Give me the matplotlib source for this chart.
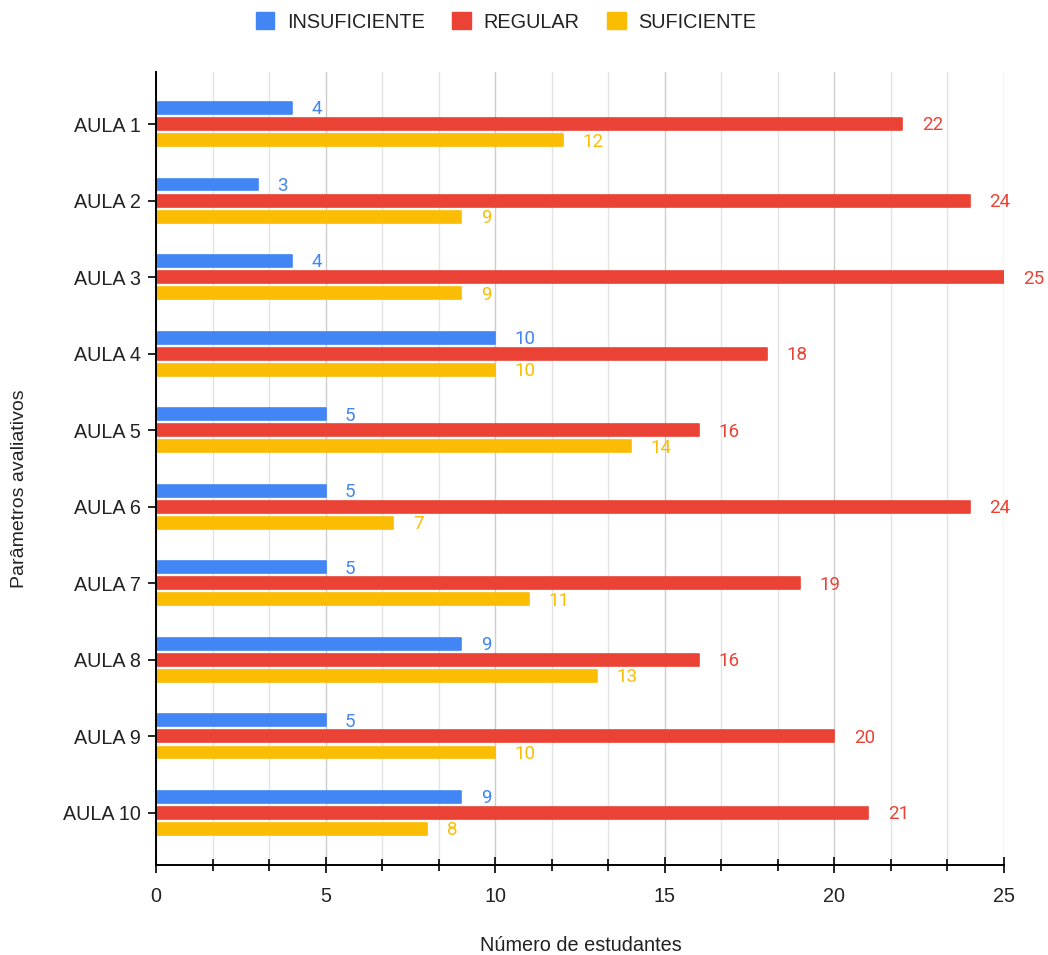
import matplotlib
matplotlib.use("Agg")
import matplotlib.pyplot as plt
import numpy as np
from matplotlib.patches import Patch
from matplotlib.ticker import MultipleLocator

plt.rcParams['font.family'] = ['Liberation Sans', 'DejaVu Sans']

categories = ["AULA 1", "AULA 2", "AULA 3", "AULA 4", "AULA 5",
              "AULA 6", "AULA 7", "AULA 8", "AULA 9", "AULA 10"]
insuficiente = [4, 3, 4, 10, 5, 5, 5, 9, 5, 9]
regular = [22, 24, 25, 18, 16, 24, 19, 16, 20, 21]
suficiente = [12, 9, 9, 10, 14, 7, 11, 13, 10, 8]

series = [("INSUFICIENTE", insuficiente, "#4285F4"),
          ("REGULAR", regular, "#EA4335"),
          ("SUFICIENTE", suficiente, "#FBBC04")]

text_col = "#222222"

fig = plt.figure(figsize=(10.48, 9.55), dpi=100)
ax = fig.add_axes([156 / 1048, 1 - 865 / 955, (1004 - 156) / 1048, (865 - 72) / 955])

y = np.arange(len(categories))
step = 0.21
bar_h = 0.155
for i, (name, vals, col) in enumerate(series):
    offs = (i - 1) * step
    ax.barh(y + offs, vals, height=bar_h, color=col, edgecolor=col,
            linewidth=1.2, joinstyle='round', zorder=3)
    for yi, v in zip(y, vals):
        ax.annotate(str(v), xy=(v, yi + offs), xytext=(14, -1),
                    textcoords='offset points', va='center', ha='left',
                    color=col, fontsize=13.5, family=['Roboto', 'DejaVu Sans'],
                    zorder=4)

ax.set_xlim(0, 25)
ax.set_ylim(9.68, -0.68)
ax.set_yticks(y)
ax.set_yticklabels(categories, fontsize=14.2, color=text_col)
ax.xaxis.set_major_locator(MultipleLocator(5))
ax.xaxis.set_minor_locator(MultipleLocator(5 / 3))
ax.tick_params(axis='x', which='major', direction='inout', length=12, width=1.2,
               labelsize=14.2, labelcolor=text_col, pad=10)
ax.tick_params(axis='x', which='minor', direction='inout', length=8, width=1.2)
ax.tick_params(axis='y', direction='inout', length=12, width=1.2, pad=5)

ax.grid(axis='x', which='major', color="#cccccc", linewidth=1, zorder=0)
ax.grid(axis='x', which='minor', color="#e3e3e3", linewidth=1, zorder=0)
for s in ['top', 'right']:
    ax.spines[s].set_visible(False)
for s in ['left', 'bottom']:
    ax.spines[s].set_linewidth(1.4)
    ax.spines[s].set_color("black")
    ax.spines[s].set_zorder(5)

fig.text(581 / 1048, 1 - 945 / 955, "Número de estudantes",
         ha='center', va='center', fontsize=14.3, color=text_col)
fig.text(20 / 1048, 1 - 489 / 955, "Parâmetros avaliativos", rotation=90,
         ha='center', va='center', fontsize=14, color=text_col)

handles = [Patch(facecolor=c, edgecolor=c, label=n) for n, _, c in series]
fig.legend(handles=handles, loc='center', bbox_to_anchor=(506 / 1048, 1 - 22 / 955),
           ncol=3, frameon=False, fontsize=14.3, handlelength=0.95, handleheight=0.95,
           handletextpad=0.65, columnspacing=1.35, labelcolor=text_col)

fig.savefig("out.png", dpi=100)
